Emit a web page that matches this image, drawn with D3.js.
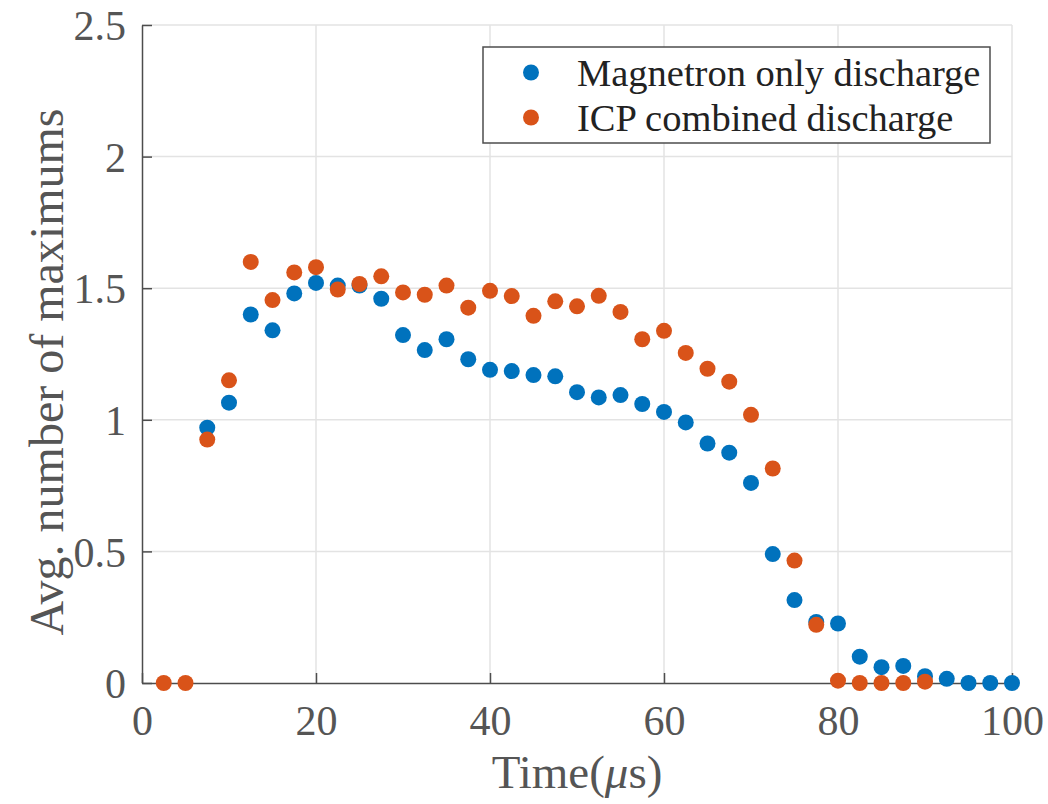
<!DOCTYPE html>
<html>
<head>
<meta charset="utf-8">
<script src="https://cdn.jsdelivr.net/npm/d3@7"></script>
<style>
    body { margin: 0; background: #fff; }
    svg { display: block; }
</style>
</head>
<body>
<div id="chart"></div>
<script>
// Data
const magTime = [7.5, 10, 12.5, 15, 17.5, 20, 22.5, 25, 27.5, 30, 32.5, 35, 37.5, 40, 42.5, 45, 47.5, 50, 52.5, 55,
    57.5, 60, 62.5, 65, 67.5, 70, 72.5, 75, 77.5, 80, 82.5, 85, 87.5, 90, 92.5, 95, 97.5, 100];
const magValues = [0.97, 1.065, 1.40, 1.34, 1.48, 1.52, 1.51, 1.51, 1.46, 1.322, 1.265, 1.306, 1.23, 1.19, 1.185, 1.17, 1.165, 1.105, 1.085, 1.094,
    1.06, 1.03, 0.99, 0.91, 0.875, 0.76, 0.49, 0.315, 0.232, 0.226, 0.10, 0.06, 0.065, 0.026, 0.016, 0, 0, 0];

const icpTime = [2.5, 5, 7.5, 10, 12.5, 15, 17.5, 20, 22.5, 25, 27.5, 30, 32.5, 35, 37.5, 40, 42.5, 45, 47.5, 50,
    52.5, 55, 57.5, 60, 62.5, 65, 67.5, 70, 72.5, 75, 77.5, 80, 82.5, 85, 87.5, 90];
const icpValues = [0, 0, 0.925, 1.15, 1.60, 1.455, 1.56, 1.58, 1.495, 1.516, 1.545, 1.484, 1.475, 1.51, 1.426, 1.49, 1.47, 1.395, 1.45, 1.431,
    1.471, 1.41, 1.306, 1.338, 1.254, 1.194, 1.145, 1.019, 0.815, 0.465, 0.221, 0.009, 0, 0, 0, 0.005];

const seriesNames = ["Magnetron only discharge", "ICP combined discharge"];
const seriesColors = ["#0072BD", "#D95319"];
const xTicks = [0, 20, 40, 60, 80, 100];
const yTicks = [0, 0.5, 1, 1.5, 2, 2.5];

const font = "'Liberation Serif', 'Times New Roman', serif";
const width = 1048, height = 804;
const margin = { top: 25, right: 36, bottom: 121, left: 142 };
const innerW = width - margin.left - margin.right;
const innerH = height - margin.top - margin.bottom;

const svg = d3.select("#chart").append("svg")
    .attr("width", width)
    .attr("height", height)
    .style("background", "#fff");

const g = svg.append("g")
    .attr("transform", `translate(${margin.left},${margin.top})`);

const x = d3.scaleLinear().domain([0, 100]).range([0, innerW]);
const y = d3.scaleLinear().domain([0, 2.5]).range([innerH, 0]);

// grid
g.append("g").selectAll("line")
    .data(xTicks.slice(1))
    .join("line")
    .attr("x1", d => x(d)).attr("x2", d => x(d))
    .attr("y1", 0).attr("y2", innerH)
    .attr("stroke", "#e3e3e3").attr("stroke-width", 1.5);

g.append("g").selectAll("line")
    .data(yTicks.slice(1))
    .join("line")
    .attr("x1", 0).attr("x2", innerW)
    .attr("y1", d => y(d)).attr("y2", d => y(d))
    .attr("stroke", "#e3e3e3").attr("stroke-width", 1.5);

// axes (ticks pointing inward)
const xAxis = g.append("g")
    .attr("transform", `translate(0,${innerH})`)
    .call(d3.axisBottom(x).tickValues(xTicks).tickSize(-10).tickPadding(22).tickSizeOuter(0).tickFormat(d3.format("d")));

const yAxis = g.append("g")
    .call(d3.axisLeft(y).tickValues(yTicks).tickSize(-10).tickPadding(16).tickSizeOuter(0).tickFormat(d => d));

[xAxis, yAxis].forEach(ax => {
    ax.select(".domain").attr("stroke", "#4d4d4d").attr("stroke-width", 1.5);
    ax.selectAll(".tick line").attr("stroke", "#4d4d4d").attr("stroke-width", 1.5);
    ax.selectAll(".tick text")
        .attr("fill", "#555")
        .style("font-family", font)
        .style("font-size", "42px");
});
xAxis.selectAll(".tick text").attr("dy", "0.71em");
yAxis.selectAll(".tick text").attr("dy", "0.35em");

// axis labels
g.append("text")
    .attr("x", innerW / 2)
    .attr("y", innerH + 105)
    .attr("text-anchor", "middle")
    .attr("fill", "#555")
    .style("font-family", font)
    .style("font-size", "47px")
    .html("Time(<tspan font-style='italic'>μ</tspan>s)");

g.append("text")
    .attr("transform", `translate(${-margin.left + 63},${innerH / 2 + 18}) rotate(-90)`)
    .attr("text-anchor", "middle")
    .attr("fill", "#555")
    .style("font-family", font)
    .style("font-size", "48px")
    .text("Avg. number of maximums");

// scatter series
const series = [
    magTime.map((t, i) => ({ t: t, v: magValues[i] })),
    icpTime.map((t, i) => ({ t: t, v: icpValues[i] }))
];

series.forEach((data, k) => {
    g.append("g").selectAll("circle")
        .data(data)
        .join("circle")
        .attr("cx", d => x(d.t))
        .attr("cy", d => y(d.v))
        .attr("r", 8)
        .attr("fill", seriesColors[k]);
});

// legend
const legend = svg.append("g").attr("transform", "translate(483,47)");
legend.append("rect")
    .attr("width", 507).attr("height", 96)
    .attr("fill", "#fff")
    .attr("stroke", "#4d4d4d").attr("stroke-width", 1.5);

seriesNames.forEach((name, k) => {
    const row = legend.append("g").attr("transform", `translate(0,${25.5 + k * 45})`);
    row.append("circle")
        .attr("cx", 48).attr("cy", 0).attr("r", 8)
        .attr("fill", seriesColors[k]);
    row.append("text")
        .attr("x", 94).attr("y", 0).attr("dy", "0.35em")
        .attr("fill", "#222")
        .style("font-family", font)
        .style("font-size", "38.5px")
        .text(name);
});
</script>
</body>
</html>
